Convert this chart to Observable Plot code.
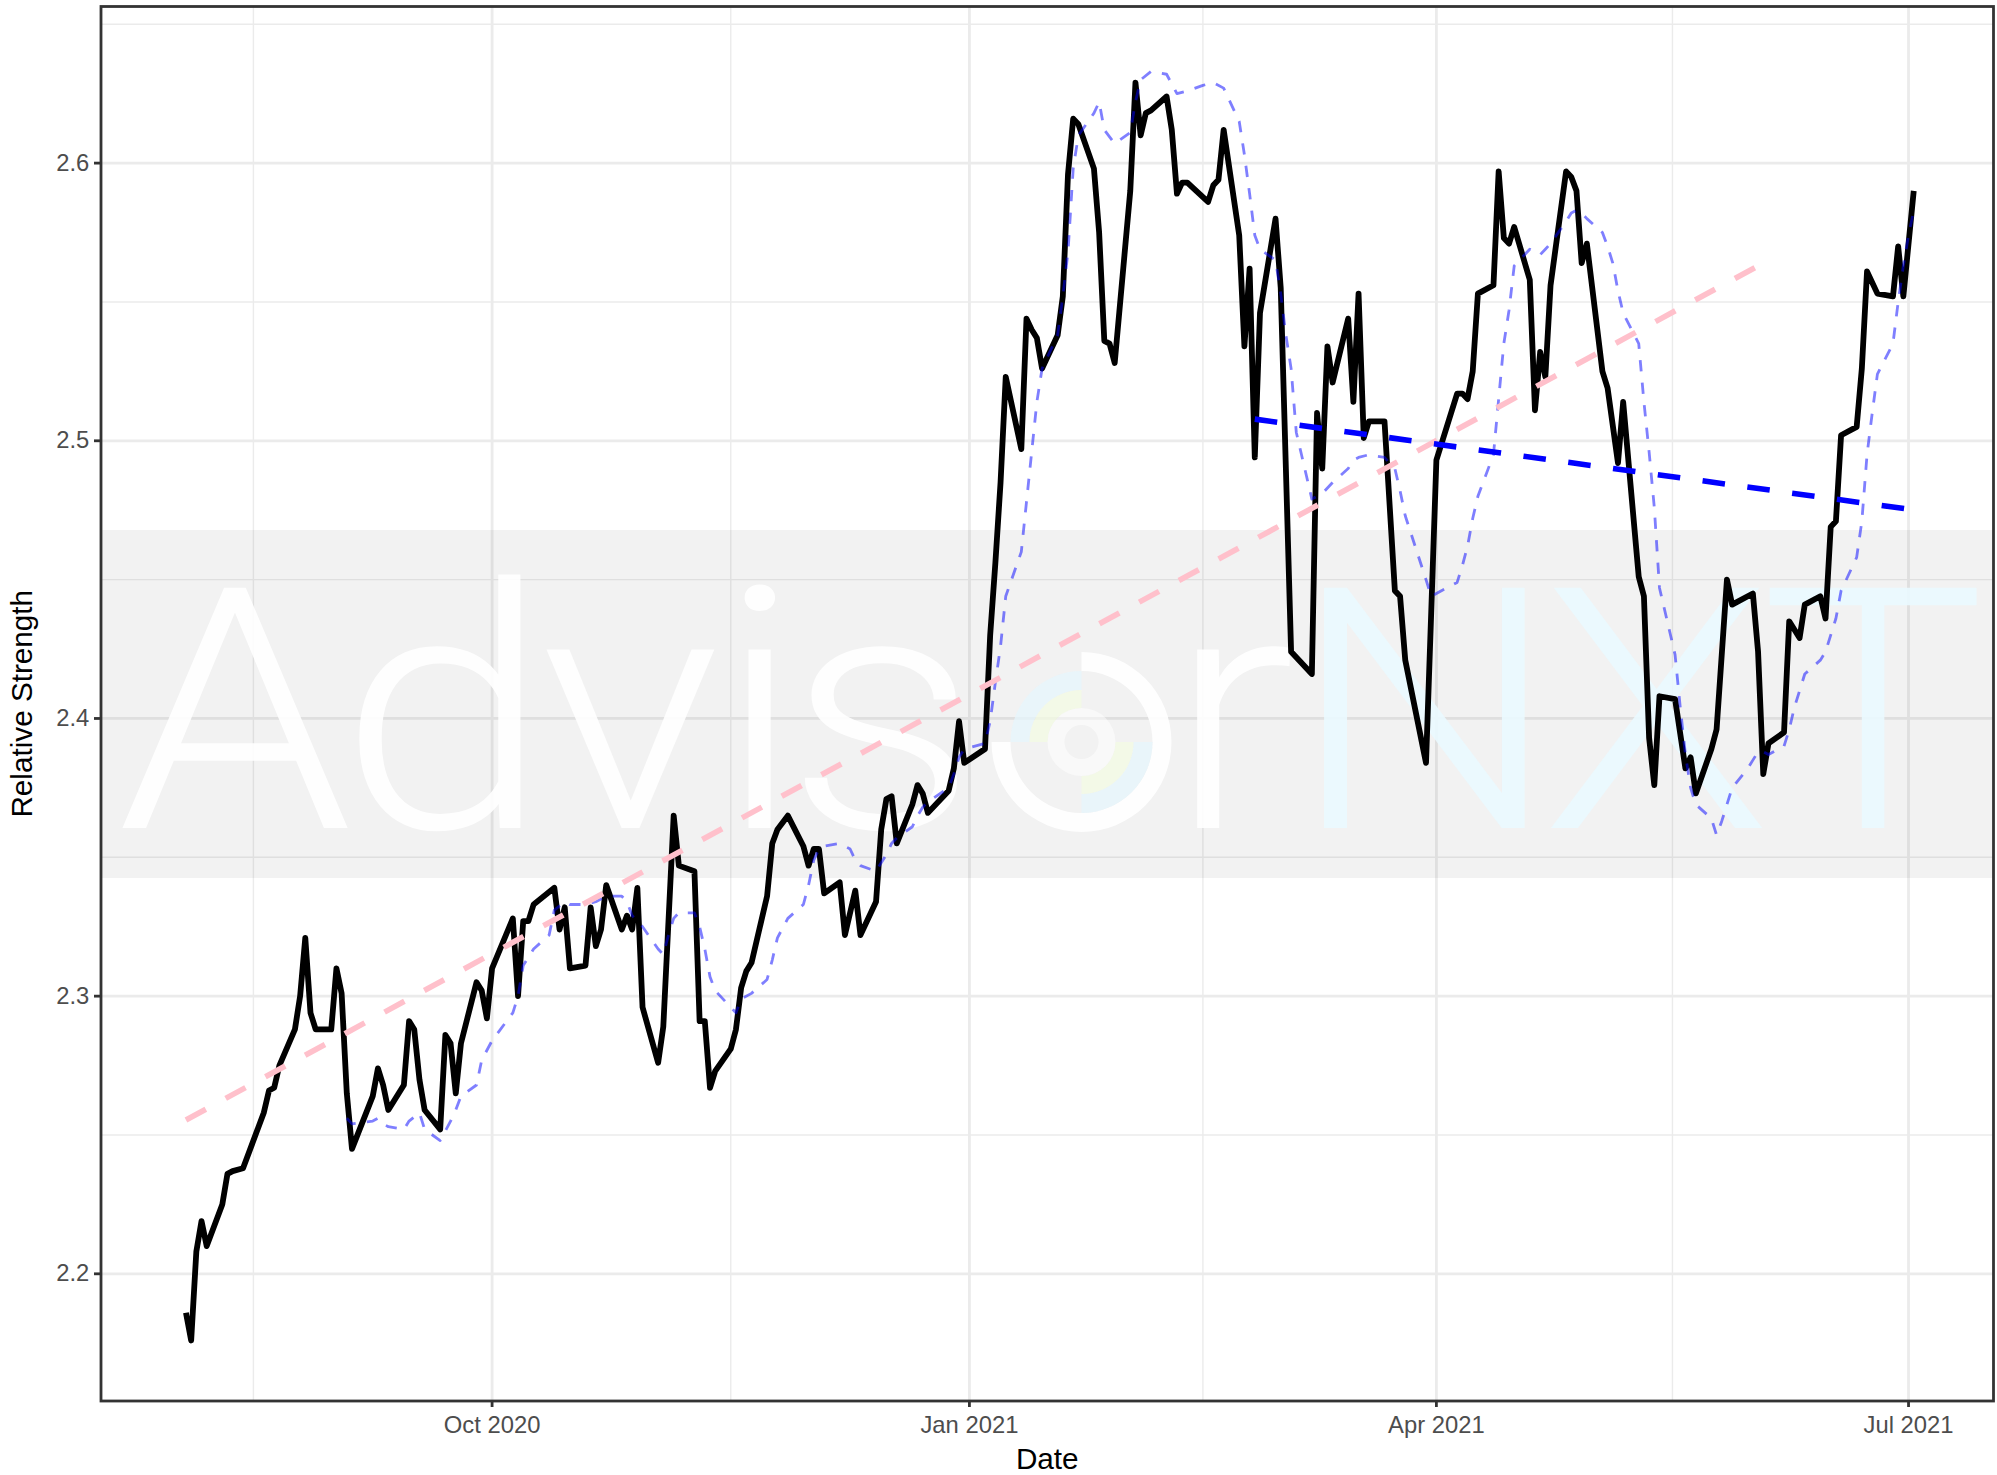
<!DOCTYPE html>
<html>
<head>
<meta charset="utf-8">
<script src="https://cdn.jsdelivr.net/npm/d3@7"></script>
<script src="https://cdn.jsdelivr.net/npm/@observablehq/plot@0.6"></script>
<style>
  html, body { margin: 0; padding: 0; background: #ffffff; }
  #chart svg { display: block; }
</style>
</head>
<body>
<div id="chart"></div>
<script>
// ---------------- data ----------------
const rsDates = [
  "2020-08-03","2020-08-04","2020-08-05","2020-08-06","2020-08-07","2020-08-10","2020-08-11","2020-08-12","2020-08-14","2020-08-18",
  "2020-08-19","2020-08-20","2020-08-21","2020-08-24","2020-08-25","2020-08-26","2020-08-27","2020-08-28","2020-08-31","2020-09-01",
  "2020-09-02","2020-09-03","2020-09-04","2020-09-08","2020-09-09","2020-09-10","2020-09-11","2020-09-14","2020-09-15","2020-09-16",
  "2020-09-17","2020-09-18","2020-09-21","2020-09-22","2020-09-23","2020-09-24","2020-09-25","2020-09-28","2020-09-29","2020-09-30",
  "2020-10-01","2020-10-05","2020-10-06","2020-10-07","2020-10-08","2020-10-09","2020-10-13","2020-10-14","2020-10-15","2020-10-16",
  "2020-10-19","2020-10-20","2020-10-21","2020-10-22","2020-10-23","2020-10-26","2020-10-27","2020-10-28","2020-10-29","2020-10-30",
  "2020-11-02","2020-11-03","2020-11-05","2020-11-06","2020-11-09","2020-11-10","2020-11-11","2020-11-12","2020-11-13","2020-11-16",
  "2020-11-17","2020-11-18","2020-11-19","2020-11-20","2020-11-23","2020-11-24","2020-11-25","2020-11-27","2020-11-30","2020-12-01",
  "2020-12-02","2020-12-03","2020-12-04","2020-12-07","2020-12-08","2020-12-10","2020-12-11","2020-12-14","2020-12-15","2020-12-16",
  "2020-12-17","2020-12-18","2020-12-21","2020-12-22","2020-12-23","2020-12-24","2020-12-28","2020-12-29","2020-12-30","2020-12-31",
  "2021-01-04","2021-01-05","2021-01-06","2021-01-07","2021-01-08","2021-01-11","2021-01-12","2021-01-13","2021-01-14","2021-01-15",
  "2021-01-18","2021-01-19","2021-01-20","2021-01-21","2021-01-22","2021-01-25","2021-01-26","2021-01-27","2021-01-28","2021-01-29",
  "2021-02-01","2021-02-02","2021-02-03","2021-02-04","2021-02-05","2021-02-08","2021-02-09","2021-02-10","2021-02-11","2021-02-12",
  "2021-02-16","2021-02-17","2021-02-18","2021-02-19","2021-02-22","2021-02-23","2021-02-24","2021-02-25","2021-02-26","2021-03-01",
  "2021-03-02","2021-03-04","2021-03-08","2021-03-09","2021-03-10","2021-03-11","2021-03-12","2021-03-15","2021-03-16","2021-03-17",
  "2021-03-18","2021-03-19","2021-03-22","2021-03-24","2021-03-25","2021-03-26","2021-03-30","2021-03-31","2021-04-01","2021-04-05",
  "2021-04-06","2021-04-07","2021-04-08","2021-04-09","2021-04-12","2021-04-13","2021-04-14","2021-04-15","2021-04-16","2021-04-19",
  "2021-04-20","2021-04-21","2021-04-22","2021-04-23","2021-04-26","2021-04-27","2021-04-28","2021-04-29","2021-04-30","2021-05-03",
  "2021-05-04","2021-05-06","2021-05-07","2021-05-10","2021-05-11","2021-05-12","2021-05-13","2021-05-14","2021-05-17","2021-05-19",
  "2021-05-20","2021-05-21","2021-05-24","2021-05-25","2021-05-27","2021-05-28","2021-06-01","2021-06-02","2021-06-03","2021-06-04",
  "2021-06-07","2021-06-08","2021-06-10","2021-06-11","2021-06-14","2021-06-15","2021-06-16","2021-06-17","2021-06-18","2021-06-21",
  "2021-06-22","2021-06-23","2021-06-25","2021-06-28","2021-06-29","2021-06-30","2021-07-02"
];
const rsValues = [
  2.186,2.176,2.208,2.219,2.210,2.225,2.236,2.237,2.238,2.258,
  2.266,2.267,2.275,2.288,2.300,2.321,2.294,2.288,2.288,2.310,
  2.301,2.265,2.245,2.264,2.274,2.268,2.259,2.268,2.291,2.288,
  2.270,2.259,2.252,2.286,2.283,2.265,2.283,2.305,2.302,2.292,
  2.310,2.328,2.300,2.327,2.327,2.333,2.339,2.324,2.332,2.310,
  2.311,2.332,2.318,2.324,2.340,2.324,2.329,2.324,2.339,2.296,
  2.276,2.289,2.365,2.347,2.345,2.291,2.291,2.267,2.273,2.281,
  2.288,2.303,2.309,2.312,2.336,2.355,2.360,2.365,2.354,2.347,
  2.353,2.353,2.337,2.341,2.322,2.338,2.322,2.334,2.360,2.371,
  2.372,2.355,2.369,2.376,2.373,2.366,2.374,2.382,2.399,2.384,
  2.389,2.430,2.456,2.485,2.523,2.497,2.544,2.540,2.537,2.526,
  2.538,2.552,2.596,2.616,2.614,2.598,2.575,2.536,2.535,2.528,
  2.590,2.629,2.610,2.618,2.619,2.624,2.612,2.589,2.593,2.593,
  2.586,2.592,2.594,2.612,2.574,2.534,2.562,2.494,2.546,2.580,
  2.555,2.424,2.416,2.510,2.490,2.534,2.521,2.544,2.514,2.553,
  2.501,2.507,2.507,2.446,2.444,2.421,2.384,2.438,2.493,2.517,
  2.517,2.515,2.525,2.553,2.556,2.597,2.573,2.571,2.577,2.558,
  2.511,2.532,2.523,2.556,2.597,2.595,2.590,2.564,2.571,2.525,
  2.519,2.492,2.514,2.451,2.444,2.393,2.376,2.408,2.407,2.382,
  2.386,2.373,2.389,2.396,2.450,2.441,2.445,2.424,2.380,2.391,
  2.395,2.435,2.429,2.441,2.444,2.436,2.469,2.471,2.502,2.505,
  2.526,2.561,2.553,2.552,2.570,2.552,2.590
];

// moving average (light blue dashed)
const maDates = [
  "2020-09-03","2020-09-04","2020-09-08","2020-09-09","2020-09-10","2020-09-11","2020-09-14","2020-09-15","2020-09-17","2020-09-18",
  "2020-09-21","2020-09-23","2020-09-24","2020-09-25","2020-09-28","2020-09-29","2020-10-01","2020-10-05","2020-10-06","2020-10-07",
  "2020-10-09","2020-10-12","2020-10-13","2020-10-15","2020-10-16","2020-10-19","2020-10-21","2020-10-23","2020-10-26","2020-10-27",
  "2020-10-28","2020-10-30","2020-11-02","2020-11-03","2020-11-04","2020-11-05","2020-11-06","2020-11-09","2020-11-10","2020-11-11",
  "2020-11-12","2020-11-13","2020-11-16","2020-11-17","2020-11-18","2020-11-20","2020-11-23","2020-11-24","2020-11-25","2020-11-27",
  "2020-11-30","2020-12-01","2020-12-02","2020-12-03","2020-12-04","2020-12-07","2020-12-08","2020-12-09","2020-12-10","2020-12-11",
  "2020-12-14","2020-12-15","2020-12-16","2020-12-17","2020-12-18","2020-12-21","2020-12-22","2020-12-23","2020-12-24","2020-12-28",
  "2020-12-29","2020-12-30","2020-12-31","2021-01-04","2021-01-05","2021-01-06","2021-01-07","2021-01-08","2021-01-11","2021-01-12",
  "2021-01-13","2021-01-14","2021-01-15","2021-01-18","2021-01-19","2021-01-20","2021-01-21","2021-01-22","2021-01-25","2021-01-26",
  "2021-01-27","2021-01-29","2021-02-01","2021-02-02","2021-02-03","2021-02-05","2021-02-08","2021-02-10","2021-02-12","2021-02-15",
  "2021-02-17","2021-02-19","2021-02-22","2021-02-23","2021-02-24","2021-02-25","2021-02-26","2021-03-01","2021-03-02","2021-03-03",
  "2021-03-04","2021-03-05","2021-03-08","2021-03-09","2021-03-10","2021-03-12","2021-03-15","2021-03-16","2021-03-17","2021-03-19",
  "2021-03-22","2021-03-23","2021-03-24","2021-03-25","2021-03-26","2021-03-30","2021-03-31","2021-04-01","2021-04-05","2021-04-06",
  "2021-04-07","2021-04-08","2021-04-09","2021-04-12","2021-04-13","2021-04-14","2021-04-15","2021-04-16","2021-04-19","2021-04-20",
  "2021-04-21","2021-04-22","2021-04-23","2021-04-26","2021-04-27","2021-04-28","2021-04-29","2021-04-30","2021-05-03","2021-05-04",
  "2021-05-05","2021-05-06","2021-05-07","2021-05-10","2021-05-11","2021-05-12","2021-05-13","2021-05-14","2021-05-17","2021-05-18",
  "2021-05-19","2021-05-20","2021-05-21","2021-05-24","2021-05-25","2021-05-26","2021-05-27","2021-05-28","2021-05-31","2021-06-01",
  "2021-06-02","2021-06-03","2021-06-04","2021-06-07","2021-06-08","2021-06-09","2021-06-10","2021-06-11","2021-06-14","2021-06-15",
  "2021-06-16","2021-06-17","2021-06-18","2021-06-21","2021-06-22","2021-06-23","2021-06-24","2021-06-25","2021-06-28","2021-06-29",
  "2021-06-30","2021-07-01","2021-07-02"
];
const maValues = [
  2.256,2.254,2.255,2.256,2.254,2.253,2.252,2.255,2.258,2.252,
  2.248,2.255,2.259,2.264,2.268,2.277,2.284,2.294,2.300,2.311,
  2.317,2.322,2.331,2.334,2.333,2.333,2.334,2.336,2.336,2.334,
  2.329,2.325,2.317,2.315,2.322,2.328,2.330,2.330,2.325,2.317,
  2.307,2.302,2.296,2.294,2.299,2.301,2.306,2.313,2.321,2.328,
  2.333,2.340,2.349,2.353,2.354,2.355,2.354,2.353,2.349,2.347,
  2.345,2.348,2.351,2.355,2.357,2.361,2.365,2.368,2.370,2.375,
  2.380,2.386,2.389,2.391,2.399,2.413,2.426,2.444,2.460,2.478,
  2.496,2.514,2.526,2.538,2.552,2.568,2.598,2.610,2.618,2.622,
  2.612,2.607,2.611,2.622,2.630,2.633,2.632,2.625,2.626,2.628,
  2.629,2.627,2.615,2.603,2.589,2.574,2.569,2.565,2.553,2.538,
  2.526,2.503,2.479,2.480,2.481,2.485,2.490,2.493,2.494,2.495,
  2.494,2.492,2.490,2.482,2.473,2.450,2.444,2.445,2.449,2.455,
  2.462,2.472,2.480,2.495,2.515,2.535,2.547,2.563,2.569,2.568,
  2.567,2.569,2.571,2.579,2.582,2.583,2.582,2.580,2.575,2.570,
  2.564,2.554,2.546,2.535,2.514,2.496,2.476,2.447,2.423,2.404,
  2.387,2.375,2.369,2.364,2.358,2.363,2.369,2.375,2.382,2.385,
  2.388,2.388,2.387,2.390,2.396,2.404,2.410,2.416,2.421,2.424,
  2.430,2.436,2.446,2.458,2.471,2.495,2.510,2.524,2.535,2.550,
  2.563,2.574,2.583
];

// trend lines (end points)
const longTrendDates = ["2020-08-03", "2021-06-03"];
const longTrendValues = [2.2554, 2.564];
const shortTrendDates = ["2021-02-25", "2021-07-02"];
const shortTrendValues = [2.5078, 2.4751];

// axes
const xMajorTicks = ["2020-10-01", "2021-01-01", "2021-04-01", "2021-07-01"];
const xTickLabels = ["Oct 2020", "Jan 2021", "Apr 2021", "Jul 2021"];
const xMinorTicks = ["2020-08-16", "2020-11-16", "2021-02-15", "2021-05-16T12:00:00Z"];
const yMajorTicks = [2.2, 2.3, 2.4, 2.5, 2.6];
const yTickLabels = ["2.2", "2.3", "2.4", "2.5", "2.6"];
const yMinorTicks = [2.25, 2.35, 2.45, 2.55, 2.65];
const xTitle = "Date";
const yTitle = "Relative Strength";
const watermarkWord1 = "Advisr";   // the "o" is the logo ring
const watermarkWord2 = "NXT";

// ---------------- build ----------------
const toDate = s => new Date(s);
const rs = rsDates.map((d, i) => ({date: toDate(d), value: rsValues[i]}));
const ma = maDates.map((d, i) => ({date: toDate(d), value: maValues[i]}));
const longTrend = longTrendDates.map((d, i) => ({date: toDate(d), value: longTrendValues[i]}));
const shortTrend = shortTrendDates.map((d, i) => ({date: toDate(d), value: shortTrendValues[i]}));
const xMajor = xMajorTicks.map(toDate);
const xMinor = xMinorTicks.map(toDate);

const W = 1997, H = 1475;
const ML = 100.5, MR = 4, MT = 6, MB = 74.5;
const gridColor = "#ebebeb";

// watermark (AdvisorNXT image) drawn in panel pixel space
function watermark() {
  const ns = "http://www.w3.org/2000/svg";
  const el = (tag, attrs, parent) => {
    const e = document.createElementNS(ns, tag);
    for (const k in attrs) e.setAttribute(k, attrs[k]);
    if (parent) parent.appendChild(e);
    return e;
  };
  const g = el("g", {"aria-label": "watermark"});
  const bandTop = 530, bandBottom = 878;
  const left = ML, right = W - MR;
  const base = 828, sx = 1.12;
  const pos1 = [235, 444.5, 630.5, 759.5, 882, 1232];
  const pos2 = [1424.5, 1656.5, 1873];
  const cx = 1081.5, cy = 742;
  const arc = d3.arc();

  // grey band
  el("rect", {x: left, y: bandTop, width: right - left, height: bandBottom - bandTop, fill: "black", "fill-opacity": 0.05}, g);

  const word = (text, xs, fill) => {
    const t = el("text", {
      x: xs.map(x => (x / sx).toFixed(2)).join(" "), y: 0,
      transform: `translate(0,${base}) scale(${sx},1)`,
      "font-family": "Roboto, 'Liberation Sans', sans-serif", "font-weight": "300", "font-size": "338",
      "text-anchor": "middle", fill, "fill-opacity": 0.9
    }, g);
    t.textContent = text;
  };
  word(watermarkWord1, pos1, "#ffffff");
  word(watermarkWord2, pos2, "#eaf9ff");

  // logo in place of the "o"
  const lg = el("g", {transform: `translate(${cx},${cy})`}, g);
  el("path", {d: arc({innerRadius: 71, outerRadius: 90, startAngle: 0, endAngle: 1.5 * Math.PI}), fill: "#ffffff", "fill-opacity": 0.9}, lg);
  const quad = [[-0.5 * Math.PI, 0], [0.5 * Math.PI, Math.PI]];
  quad.forEach(([a0, a1]) => {
    el("path", {d: arc({innerRadius: 52, outerRadius: 71, startAngle: a0, endAngle: a1}), fill: "#e6f5fc", "fill-opacity": 0.75}, lg);
    el("path", {d: arc({innerRadius: 34, outerRadius: 52, startAngle: a0, endAngle: a1}), fill: "#f3fbe3", "fill-opacity": 0.75}, lg);
  });
  el("path", {d: arc({innerRadius: 17, outerRadius: 34, startAngle: 0, endAngle: 2 * Math.PI}), fill: "#ffffff", "fill-opacity": 0.5}, lg);
  return g;
}

const chart = Plot.plot({
  width: W,
  height: H,
  marginLeft: ML,
  marginRight: MR,
  marginTop: MT,
  marginBottom: MB,
  style: {fontFamily: "'Liberation Sans', Arial, Helvetica, sans-serif", fontSize: "23.8px", background: "#ffffff", overflow: "visible"},
  x: {type: "utc", domain: [new Date("2020-07-17T15:00:00Z"), new Date("2021-07-17T09:00:00Z")]},
  y: {domain: [2.1542, 2.6564]},
  marks: [
    Plot.ruleX(xMinor, {x: d => d, stroke: gridColor, strokeWidth: 1.4}),
    Plot.ruleY(yMinorTicks, {y: d => d, stroke: gridColor, strokeWidth: 1.4}),
    Plot.ruleX(xMajor, {x: d => d, stroke: gridColor, strokeWidth: 2.8}),
    Plot.ruleY(yMajorTicks, {y: d => d, stroke: gridColor, strokeWidth: 2.8}),
    watermark,
    Plot.line(rs, {x: "date", y: "value", stroke: "black", strokeWidth: 5.8, strokeLinejoin: "round", strokeLinecap: "butt"}),
    Plot.line(ma, {x: "date", y: "value", stroke: "blue", strokeOpacity: 0.5, strokeWidth: 2.8, strokeDasharray: "11.3,11.3", strokeLinecap: "butt"}),
    Plot.line(longTrend, {x: "date", y: "value", stroke: "pink", strokeWidth: 5.6, strokeDasharray: "22.6,22.6", strokeLinecap: "butt"}),
    Plot.line(shortTrend, {x: "date", y: "value", stroke: "blue", strokeWidth: 5.6, strokeDasharray: "22.6,22.6", strokeLinecap: "butt"}),
    Plot.frame({stroke: "#333333", strokeWidth: 2.8}),
    Plot.axisX({ticks: xMajor, tickFormat: d => xTickLabels[xMajor.findIndex(t => +t === +d)], tickSize: 6.5, tickPadding: 9,
                stroke: "#333333", strokeWidth: 2.8, fill: "#4d4d4d", fontSize: 23.8, label: null}),
    Plot.axisY({ticks: yMajorTicks, tickFormat: d => yTickLabels[yMajorTicks.indexOf(d)], tickSize: 6.5, tickPadding: 5.2,
                stroke: "#333333", strokeWidth: 2.8, fill: "#4d4d4d", fontSize: 23.8, label: null}),
    Plot.text([xTitle], {text: d => d, frameAnchor: "bottom", dy: 67.5, lineAnchor: "bottom", textAnchor: "middle", fontSize: 29.7, fill: "black"}),
    Plot.text([yTitle], {text: d => d, frameAnchor: "left", dx: -69.5, rotate: -90, lineAnchor: "bottom", textAnchor: "middle", fontSize: 29.7, fill: "black"})
  ]
});
document.getElementById("chart").appendChild(chart);
</script>
</body>
</html>
